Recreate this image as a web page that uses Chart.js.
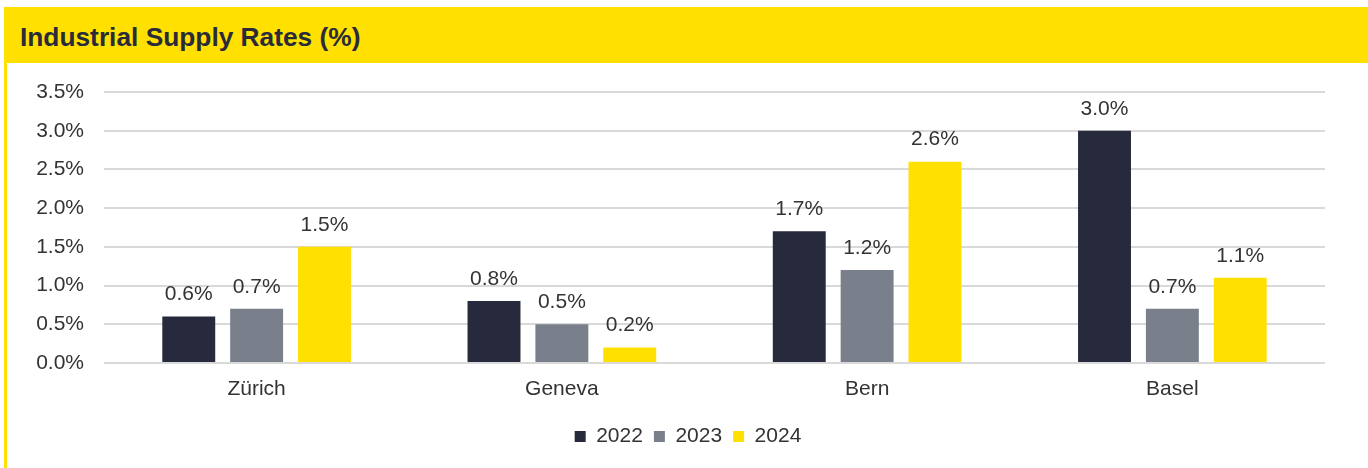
<!DOCTYPE html>
<html>
<head>
<meta charset="utf-8">
<script src="https://cdn.jsdelivr.net/npm/chart.js@4"></script>
<style>
  html, body { margin: 0; padding: 0; background: #fff; width: 1368px; height: 468px; overflow: hidden; }
  #header { position: absolute; left: 4px; top: 7px; width: 1364px; height: 56px; background: #ffe000; }
  #title { position: absolute; left: 16px; top: 2px; font: bold 26.3px "Liberation Sans", Arial, sans-serif; line-height: 56px; color: #2a2b3a; }
  #border { position: absolute; left: 4px; top: 63px; width: 3px; height: 405px; background: #ffe000; }
  #wrap { position: absolute; left: 8px; top: 63px; width: 1360px; height: 405px; }
</style>
</head>
<body>
<div id="header"><div id="title">Industrial Supply Rates (%)</div></div>
<div id="border"></div>
<div id="wrap"><canvas id="c"></canvas></div>
<script>
const categories = ["Zürich", "Geneva", "Bern", "Basel"];
const seriesNames = ["2022", "2023", "2024"];
const values2022 = [0.6, 0.8, 1.7, 3.0];
const values2023 = [0.7, 0.5, 1.2, 0.7];
const values2024 = [1.5, 0.2, 2.6, 1.1];
const colors = ["#262a3c", "#7a808b", "#ffe000"];

const labelPlugin = {
  id: 'valueLabels',
  afterDatasetsDraw(chart) {
    const ctx = chart.ctx;
    ctx.save();
    ctx.font = '21px "Liberation Sans", Arial, sans-serif';
    ctx.fillStyle = '#333333';
    ctx.textAlign = 'center';
    ctx.textBaseline = 'middle';
    chart.data.datasets.forEach((ds, i) => {
      const meta = chart.getDatasetMeta(i);
      meta.data.forEach((bar, j) => {
        ctx.fillText(ds.data[j].toFixed(1) + '%', bar.x, bar.y - 22);
      });
    });
    ctx.restore();
  }
};

const font = { family: '"Liberation Sans", Arial, sans-serif', size: 21 };

new Chart(document.getElementById('c'), {
  type: 'bar',
  data: {
    labels: categories,
    datasets: [
      { label: seriesNames[0], data: values2022, backgroundColor: colors[0] },
      { label: seriesNames[1], data: values2023, backgroundColor: colors[1] },
      { label: seriesNames[2], data: values2024, backgroundColor: colors[2] }
    ]
  },
  options: {
    responsive: true,
    maintainAspectRatio: false,
    animation: false,
    devicePixelRatio: 1,
    layout: { padding: { top: 29, right: 0, bottom: 11, left: 0 } },
    datasets: { bar: { categoryPercentage: 0.667, barPercentage: 0.78 } },
    scales: {
      x: {
        grid: { display: false, drawTicks: false },
        border: { display: false },
        ticks: { color: '#333333', font: font, padding: 14 },
        afterFit(scale) { scale.height = 52; scale.paddingLeft = 0; scale.paddingRight = 0; }
      },
      y: {
        min: 0, max: 3.5,
        grid: { color: '#d9d9d9', lineWidth: 2, drawTicks: false },
        border: { display: false },
        ticks: {
          stepSize: 0.5,
          color: '#333333',
          font: font,
          padding: 20,
          callback: v => v.toFixed(1) + '%'
        },
        afterFit(scale) { scale.width = 96; scale.paddingTop = 0; scale.paddingBottom = 0; }
      },
      yRight: {
        type: 'linear',
        position: 'right',
        min: 0, max: 3.5,
        grid: { display: false, drawTicks: false },
        border: { display: false },
        ticks: { display: false },
        afterFit(scale) { scale.width = 43; scale.paddingTop = 0; scale.paddingBottom = 0; }
      }
    },
    plugins: {
      legend: {
        position: 'bottom',
        labels: {
          color: '#333333',
          font: font,
          boxWidth: 11,
          boxHeight: 11,
          padding: 11
        }
      },
      tooltip: { enabled: false }
    }
  },
  plugins: [labelPlugin]
});
</script>
</body>
</html>
